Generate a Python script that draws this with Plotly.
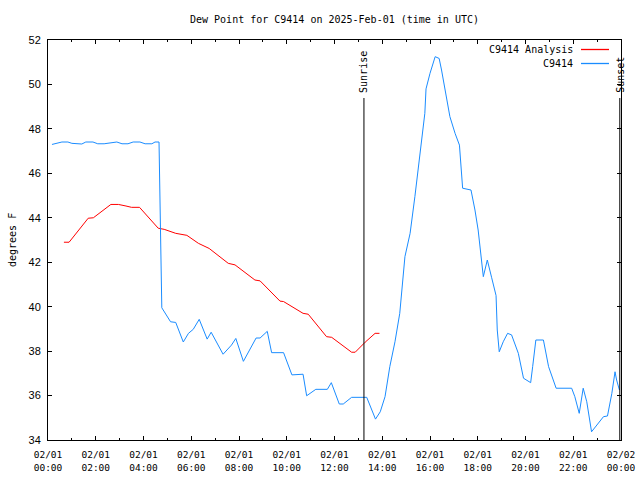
import plotly.graph_objects as go

DAY = "2025-02-01"

# C9414 observations (time HH:MM UTC, dew point F)
obs_time = ["00:10","00:25","00:35","00:50","01:00","01:25","01:35","01:53","02:05","02:21",
            "02:36","02:53","03:06","03:21","03:34","03:51","04:04","04:21","04:29","04:39",
            "04:46","05:08","05:21","05:40","05:53","06:05","06:20","06:40","06:50","07:20",
            "07:41","07:52","08:11","08:43","08:53","09:11","09:22","09:52","10:13","10:41",
            "10:50","11:13","11:42","11:52","12:12","12:22","12:43","13:21","13:43","13:55",
            "14:07","14:19","14:32","14:44","14:57","15:10","15:22","15:35","15:47","15:50",
            "16:00","16:13","16:23","16:29","16:38","16:50","17:03","17:14","17:22","17:43",
            "17:53","18:01","18:14","18:24","18:35","18:46","18:49","18:54","19:04","19:15",
            "19:25","19:42","19:55","20:13","20:18","20:26","20:45","20:58","21:17","21:56",
            "22:04","22:15","22:25","22:34","22:46","22:59","23:16","23:26","23:37","23:45",
            "23:49","23:56"]
obs_val = [47.30,47.38,47.41,47.41,47.35,47.32,47.41,47.41,47.33,47.33,
           47.38,47.41,47.33,47.33,47.41,47.41,47.33,47.33,47.41,47.41,
           39.95,39.32,39.29,38.41,38.80,38.98,39.43,38.54,38.85,37.86,
           38.27,38.57,37.54,38.59,38.59,38.89,37.93,37.93,36.93,36.96,
           35.99,36.28,36.28,36.58,35.62,35.62,35.92,35.92,34.94,35.27,
           35.95,37.30,38.42,39.70,42.25,43.30,44.95,47.05,48.70,49.80,
           50.50,51.25,51.17,50.65,49.75,48.55,47.80,47.27,45.33,45.25,
           44.35,43.45,41.35,42.10,41.30,40.50,38.95,37.97,38.42,38.80,
           38.73,37.90,36.78,36.58,37.30,38.50,38.50,37.30,36.33,36.33,
           35.95,35.20,36.33,35.72,34.37,34.67,35.05,35.08,36.10,37.07,
           36.70,36.25]

# C9414 Analysis
ana_time = ["00:40","00:53","01:41","01:54","02:38","02:57","03:16","03:30","03:50","04:37",
            "04:52","05:21","05:49","06:18","06:45","07:33","07:50","08:19","08:40","08:53",
            "09:43","09:52","10:41","10:54","11:40","11:53","12:43","12:52","13:17","13:42",
            "13:53"]
ana_val = [42.90,42.90,43.98,44.00,44.60,44.60,44.53,44.47,44.47,43.53,
           43.48,43.30,43.21,42.85,42.62,41.95,41.88,41.50,41.20,41.16,
           40.25,40.23,39.70,39.66,38.65,38.62,37.95,37.95,38.40,38.80,
           38.80]

sunrise = "13:14"
sunset = "23:57"

tick_hours = ["00:00","02:00","04:00","06:00","08:00","10:00","12:00","14:00",
              "16:00","18:00","20:00","22:00","00:00"]
tick_dates = ["02/01"] * 12 + ["02/02"]
y_ticks = [34, 36, 38, 40, 42, 44, 46, 48, 50, 52]

RED = "#ff0000"
BLUE = "#1a8cff"
MONO = "DejaVu Sans Mono"


def ts(hm, day=DAY):
    return f"{day} {hm}"


tickvals = [ts(h) for h in tick_hours[:-1]] + ["2025-02-02 00:00"]
ticktext = [f"{d}<br>{h}" for d, h in zip(tick_dates, tick_hours)]

fig = go.Figure()
fig.add_trace(go.Scatter(x=[ts(t) for t in ana_time], y=ana_val, mode="lines",
                         line=dict(color=RED, width=1), name="C9414 Analysis"))
fig.add_trace(go.Scatter(x=[ts(t) for t in obs_time], y=obs_val, mode="lines",
                         line=dict(color=BLUE, width=1), name="C9414"))

W, H = 640, 480
L, R, T, B = 48, 19, 40, 40
pw, ph = W - L - R, H - T - B


def px(xp):
    return (xp - L) / pw


def py(yp):
    return 1 - (yp - T) / ph


shapes = []
annotations = []
for t, label, ytxt in [(sunrise, "Sunrise", 72), (sunset, "Sunset", 75)]:
    shapes.append(dict(type="line", xref="x", yref="paper", x0=ts(t), x1=ts(t),
                       y0=0, y1=py(98), line=dict(color="black", width=1)))
    annotations.append(dict(text=label, xref="x", yref="paper", x=ts(t), y=py(ytxt),
                            textangle=-90, showarrow=False, xanchor="center", yanchor="middle",
                            font=dict(family=MONO, size=10, color="black")))

# legend (gnuplot style: text then sample line)
for i, (name, col) in enumerate([("C9414 Analysis", RED), ("C9414", BLUE)]):
    yy = 49.5 + i * 14
    annotations.append(dict(text=name, xref="paper", yref="paper", x=px(575), y=py(yy),
                            xanchor="right", yanchor="middle", showarrow=False,
                            font=dict(family=MONO, size=10, color="black")))
    shapes.append(dict(type="line", xref="paper", yref="paper", x0=px(581), x1=px(609),
                       y0=py(yy), y1=py(yy), line=dict(color=col, width=1.3)))

annotations.append(dict(text="degrees F", xref="paper", yref="paper", x=px(12), y=py(240),
                        textangle=-90, showarrow=False, xanchor="center", yanchor="middle",
                        font=dict(family=MONO, size=10, color="black")))
annotations.append(dict(text="Dew Point for C9414 on 2025-Feb-01 (time in UTC)",
                        xref="paper", yref="paper", x=0.5, y=py(19), showarrow=False,
                        xanchor="center", yanchor="middle",
                        font=dict(family=MONO, size=10, color="black")))

fig.update_layout(
    width=W, height=H,
    margin=dict(l=L, r=R, t=T, b=B, pad=0, autoexpand=False),
    paper_bgcolor="white", plot_bgcolor="white",
    showlegend=False,
    shapes=shapes, annotations=annotations,
    xaxis=dict(range=["2025-02-01 00:00", "2025-02-02 00:00"], tickmode="array",
               tickvals=tickvals, ticktext=ticktext, ticks="inside", ticklen=4,
               tickcolor="black", showline=True, linecolor="black", linewidth=1,
               mirror="ticks", showgrid=False, zeroline=False, automargin=False,
               ticklabelstandoff=6,
               tickfont=dict(family=MONO, size=9.5, color="black"),
               minor=dict(ticks="inside", ticklen=2, dtick=3600000, tickcolor="black",
                          showgrid=False)),
    yaxis=dict(range=[34, 52], tickmode="array", tickvals=y_ticks,
               ticktext=[str(v) for v in y_ticks], ticks="inside", ticklen=4,
               tickcolor="black", showline=True, linecolor="black", linewidth=1,
               mirror="ticks", showgrid=False, zeroline=False, ticklabelstandoff=4,
               automargin=False,
               tickfont=dict(family="Liberation Sans", size=11, color="black")),
)

fig.write_html("out.html", config={"displayModeBar": False},
               post_script="document.body.style.margin='0';document.body.style.overflow='hidden';")
